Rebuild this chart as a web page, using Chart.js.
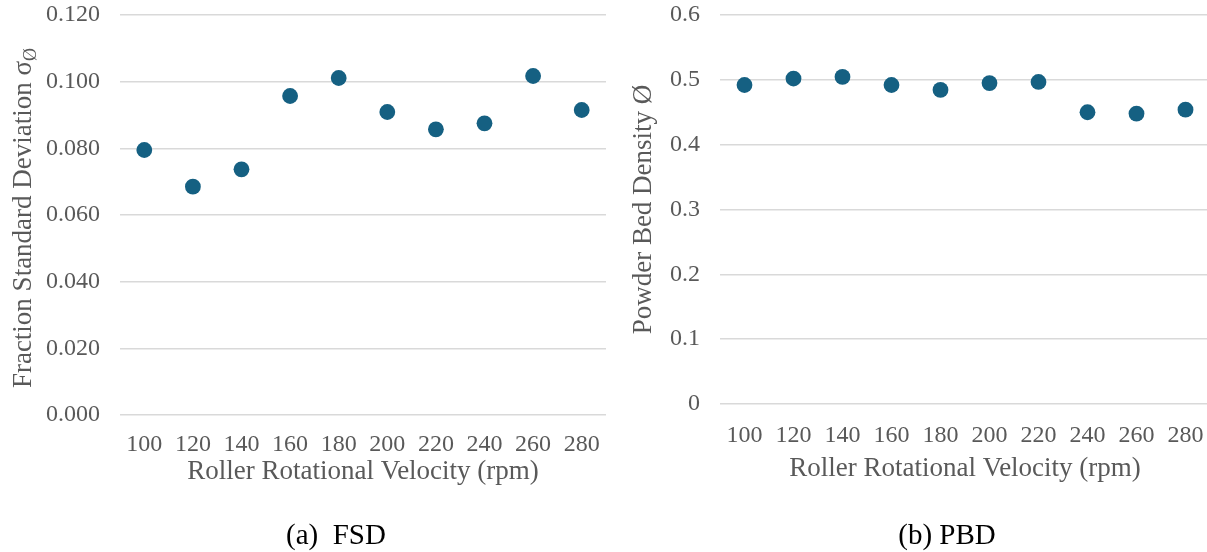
<!DOCTYPE html>
<html>
<head>
<meta charset="utf-8">
<script src="https://cdn.jsdelivr.net/npm/chart.js@4"></script>
<style>
  html, body { margin: 0; padding: 0; background: #fff; overflow: hidden; width: 1207px; height: 552px; }
  #wrapA { position: absolute; left: 0; top: 0; width: 606px; height: 552px; }
  #wrapB { position: absolute; left: 600px; top: 0; width: 610px; height: 552px; }
  .cap { position: absolute; top: 517px; font-family: "Liberation Serif", "Times New Roman", serif; font-size: 29px; line-height: 34px; color: #000; white-space: pre; transform: translateX(-50%); }
</style>
</head>
<body>
<div id="wrapA"><canvas id="cA" width="606" height="552"></canvas></div>
<div id="wrapB"><canvas id="cB" width="610" height="552"></canvas></div>
<div class="cap" style="left:336px">(a)  FSD</div>
<div class="cap" style="left:947px">(b) PBD</div>
<script>
const categories = ["100", "120", "140", "160", "180", "200", "220", "240", "260", "280"];
const fsdValues = [0.0795, 0.0685, 0.0737, 0.0957, 0.1011, 0.0909, 0.0857, 0.0875, 0.1017, 0.0915];
const pbdValues = [0.492, 0.502, 0.5045, 0.492, 0.4844, 0.495, 0.4967, 0.450, 0.448, 0.454];
const fsdTicks = [0, 0.02, 0.04, 0.06, 0.08, 0.1, 0.12];
const pbdTicks = [0, 0.1, 0.2, 0.3, 0.4, 0.5, 0.6];

const SERIF = '"Liberation Serif", "Times New Roman", serif';
const TICK_COLOR = '#595959';
const GRID_COLOR = '#d9d9d9';
const POINT_COLOR = '#156082';

// Draws the rotated y-axis title with a subscript
const yTitlePlugin = {
  id: 'yTitleSub',
  afterDraw(chart, args, opts) {
    if (!opts || !opts.main) return;
    const ctx = chart.ctx;
    const area = chart.chartArea;
    const cy = (area.top + area.bottom) / 2 + (opts.dy || 0);
    ctx.save();
    ctx.fillStyle = TICK_COLOR;
    ctx.textBaseline = 'alphabetic';
    const mainFont = opts.size + 'px ' + SERIF;
    const subFont = Math.round(opts.size * 0.66) + 'px ' + SERIF;
    ctx.font = mainFont;
    const w1 = ctx.measureText(opts.main).width;
    ctx.font = subFont;
    const w2 = ctx.measureText(opts.sub || '').width;
    const total = w1 + w2;
    ctx.translate(opts.x, cy);
    ctx.rotate(-Math.PI / 2);
    ctx.font = mainFont;
    ctx.fillText(opts.main, -total / 2, opts.size * 0.33);
    ctx.font = subFont;
    ctx.fillText(opts.sub || '', -total / 2 + w1, opts.size * 0.33 + opts.size * 0.18);
    ctx.restore();
  }
};

function makeChart(id, values, ticks, min, max, fmt, yTitleOpts, yTitleText, padBottom, xHeight, xTickPad) {
  return new Chart(document.getElementById(id), {
    type: 'line',
    data: {
      labels: categories,
      datasets: [{
        data: values,
        showLine: false,
        pointRadius: 7.9,
        pointHoverRadius: 7.9,
        pointBackgroundColor: POINT_COLOR,
        pointBorderColor: POINT_COLOR,
        pointBorderWidth: 0,
        borderColor: POINT_COLOR,
        backgroundColor: POINT_COLOR,
        clip: false
      }]
    },
    options: {
      responsive: false,
      animation: false,
      events: [],
      layout: { autoPadding: false, padding: { top: 15, bottom: padBottom, right: 0, left: 0 } },
      plugins: {
        legend: { display: false },
        tooltip: { enabled: false },
        yTitleSub: yTitleOpts
      },
      scales: {
        x: {
          type: 'category',
          offset: true,
          afterFit(scale) { scale.paddingLeft = 0; scale.paddingRight = 0; scale.height = xHeight; },
          grid: { display: false, drawTicks: false },
          border: { display: false },
          ticks: { color: TICK_COLOR, font: { family: SERIF, size: 24 }, padding: xTickPad, maxRotation: 0, autoSkip: false },
          title: { display: true, text: 'Roller Rotational Velocity (rpm)', color: TICK_COLOR, font: { family: SERIF, size: 27 }, padding: { top: 0, bottom: 0 } }
        },
        y: {
          min: min, max: max,
          afterFit(scale) { scale.width = 120; scale.paddingTop = 0; scale.paddingBottom = 0; },
          afterBuildTicks(scale) { scale.ticks = ticks.map(v => ({ value: v })); },
          grid: { color: GRID_COLOR, lineWidth: 1.6, drawTicks: false },
          border: { display: false },
          ticks: {
            color: TICK_COLOR, font: { family: SERIF, size: 24 }, padding: 20,
            callback: fmt
          },
          title: yTitleText ? { display: true, text: yTitleText, color: TICK_COLOR, font: { family: SERIF, size: 27 }, padding: { top: 28, bottom: 0 } } : { display: false }
        }
      }
    },
    plugins: [yTitlePlugin]
  });
}

makeChart('cA', fsdValues, fsdTicks, 0, 0.12, (v) => Number(v).toFixed(3),
  { main: 'Fraction Standard Deviation σ', sub: 'Ø', size: 27, x: 22, dy: 3 }, null, 64, 73, 15);
makeChart('cB', pbdValues, pbdTicks, 0, 0.6, (v) => (v === 0 ? '0' : Number(v).toFixed(1)), {}, 'Powder Bed Density Ø', 67, 81, 17);
</script>
</body>
</html>
